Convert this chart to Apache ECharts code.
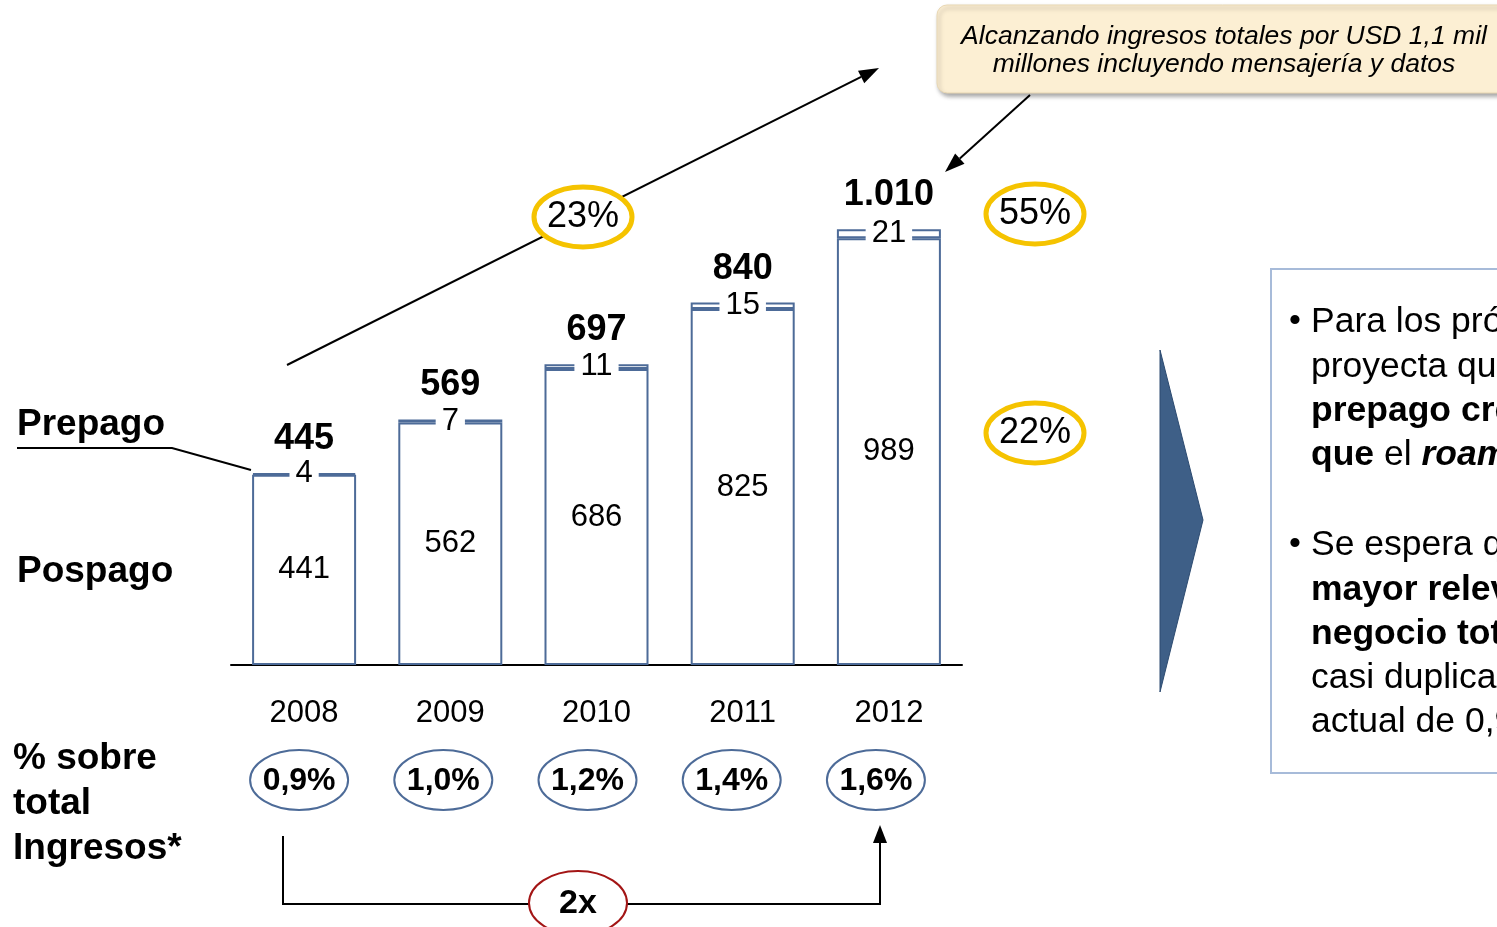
<!DOCTYPE html>
<html>
<head>
<meta charset="utf-8">
<script src="https://cdn.jsdelivr.net/npm/echarts@6/dist/echarts.min.js"></script>
<style>
  html, body { margin: 0; padding: 0; background: #fff; }
  #chart { width: 1497px; height: 927px; }
</style>
</head>
<body>
<div id="chart"></div>
<script>
// datos
const years = ['2008', '2009', '2010', '2011', '2012']
const pospago = [441, 562, 686, 825, 989]
const prepago = [4, 7, 11, 15, 21]
const pctIngresos = ['0,9%', '1,0%', '1,2%', '1,4%', '1,6%']
const cagrTotal = '23%'
const cagrPrepago = '55%'
const cagrPospago = '22%'

const totals = pospago.map((v, i) => v + prepago[i])

const FONT = 'Liberation Sans, Arial, sans-serif'
const BAR_BLUE = '#4d6b98'

// separador de miles con punto
function fmt(n) {
  return String(n).replace(/\B(?=(\d{3})+(?!\d))/g, '.')
}

function arrow(x1, y1, x2, y2, len, w) {
  const a = Math.atan2(y2 - y1, x2 - x1)
  const bx = x2 - len * Math.cos(a)
  const by = y2 - len * Math.sin(a)
  const px = -Math.sin(a) * w / 2
  const py = Math.cos(a) * w / 2
  return [
    { type: 'line', z: 10, shape: { x1: x1, y1: y1, x2: bx, y2: by }, style: { stroke: '#000', lineWidth: 2 } },
    { type: 'polygon', z: 10, shape: { points: [[x2, y2], [bx + px, by + py], [bx - px, by - py]] }, style: { fill: '#000' } },
  ]
}

function yellowOval(cx, cy, txt) {
  return [
    { type: 'ellipse', z: 20, shape: { cx: cx, cy: cy, rx: 49, ry: 30 }, style: { fill: '#fff', stroke: '#f5c300', lineWidth: 5 } },
    { type: 'text', z: 21, x: cx, y: cy, style: { text: txt, font: '36px ' + FONT, fill: '#000', align: 'center', verticalAlign: 'middle' } },
  ]
}

const chart = echarts.init(document.getElementById('chart'))

const option = {
  animation: false,
  backgroundColor: '#fff',
  grid: { left: 231, right: 535, top: 61, bottom: 262 },
  xAxis: {
    type: 'category',
    data: years,
    axisLine: { lineStyle: { color: '#000', width: 2 } },
    axisTick: { show: false },
    axisLabel: { color: '#000', fontSize: 31, fontFamily: FONT, margin: 33 },
  },
  yAxis: {
    type: 'value',
    min: 0,
    max: 1400,
    show: false,
    splitLine: { show: false },
  },
  series: [
    {
      name: 'Pospago',
      type: 'bar',
      stack: 'total',
      barWidth: 104,
      data: pospago,
      itemStyle: { color: '#fff', borderColor: BAR_BLUE, borderWidth: 2 },
      label: { show: true, position: 'inside', color: '#000', fontSize: 31, fontFamily: FONT },
    },
    {
      name: 'Prepago',
      type: 'bar',
      stack: 'total',
      barWidth: 104,
      data: prepago,
      itemStyle: { color: '#fff', borderColor: BAR_BLUE, borderWidth: 2 },
      label: {
        show: true,
        position: 'inside',
        color: '#000',
        fontSize: 31,
        fontFamily: FONT,
        backgroundColor: '#fff',
        padding: [0, 6],
      },
    },
    {
      // total encima de cada barra
      name: 'Total',
      type: 'bar',
      stack: 'total',
      barWidth: 104,
      data: totals.map(() => 0),
      itemStyle: { color: 'rgba(0,0,0,0)', borderWidth: 0 },
      label: {
        show: true,
        position: 'top',
        distance: 16,
        color: '#000',
        fontSize: 36,
        fontWeight: 'bold',
        fontFamily: FONT,
        formatter: (p) => fmt(totals[p.dataIndex]),
      },
    },
  ],
}

chart.setOption(option)

// anotaciones
let g = []

// etiquetas de la izquierda
const leftFont = 'bold 37px ' + FONT
g.push({ type: 'text', x: 17, y: 425, style: { text: 'Prepago', font: leftFont, fill: '#000', verticalAlign: 'middle' } })
g.push({ type: 'polyline', shape: { points: [[17, 448], [172, 448], [251, 470]] }, style: { stroke: '#000', lineWidth: 2, fill: null } })
g.push({ type: 'text', x: 17, y: 572, style: { text: 'Pospago', font: leftFont, fill: '#000', verticalAlign: 'middle' } })
g.push({ type: 'text', x: 13, y: 759, style: { text: '% sobre', font: leftFont, fill: '#000', verticalAlign: 'middle' } })
g.push({ type: 'text', x: 13, y: 804, style: { text: 'total', font: leftFont, fill: '#000', verticalAlign: 'middle' } })
g.push({ type: 'text', x: 13, y: 849, style: { text: 'Ingresos*', font: leftFont, fill: '#000', verticalAlign: 'middle' } })

// % sobre ingresos (ovalos un poco mas juntos que las barras)
years.forEach((y, i) => {
  const cx = chart.convertToPixel({ xAxisIndex: 0 }, y) - 5 - i * 2
  g.push({ type: 'ellipse', shape: { cx: cx, cy: 780, rx: 49, ry: 30 }, style: { fill: '#fff', stroke: BAR_BLUE, lineWidth: 2 } })
  g.push({ type: 'text', x: cx, y: 781, style: { text: pctIngresos[i], font: 'bold 32px ' + FONT, fill: '#000', align: 'center', verticalAlign: 'middle' } })
})

// flecha crecimiento total
g = g.concat(arrow(287, 365, 879, 68, 20, 14))
g = g.concat(yellowOval(583, 217, cagrTotal))
g = g.concat(yellowOval(1035, 214, cagrPrepago))
g = g.concat(yellowOval(1035, 433, cagrPospago))

// cuadro de texto superior
g.push({
  type: 'rect', z: 5,
  shape: { x: 937, y: 5, width: 600, height: 88, r: 10 },
  style: { fill: '#fcefd3', stroke: '#e9d8b4', lineWidth: 1, shadowBlur: 4, shadowOffsetX: 2, shadowOffsetY: 3, shadowColor: 'rgba(0,0,0,0.35)' },
})
g.push({ type: 'text', z: 6, x: 1224, y: 37, style: { text: 'Alcanzando ingresos totales por USD 1,1 mil', font: 'italic 26.5px ' + FONT, fill: '#000', align: 'center', verticalAlign: 'middle' } })
g.push({ type: 'text', z: 6, x: 1224, y: 65, style: { text: 'millones incluyendo mensajería y datos', font: 'italic 26.5px ' + FONT, fill: '#000', align: 'center', verticalAlign: 'middle' } })
g = g.concat(arrow(1030, 95, 945, 172, 20, 14))

// corchete 2x
g.push({ type: 'polyline', z: 10, shape: { points: [[283, 836], [283, 904], [880, 904], [880, 842]] }, style: { stroke: '#000', lineWidth: 2, fill: null } })
g.push({ type: 'polygon', z: 10, shape: { points: [[880, 825], [873, 843], [887, 843]] }, style: { fill: '#000' } })
g.push({ type: 'ellipse', z: 20, shape: { cx: 578, cy: 903, rx: 49, ry: 32 }, style: { fill: '#fff', stroke: '#a31515', lineWidth: 2 } })
g.push({ type: 'text', z: 21, x: 578, y: 904, style: { text: '2x', font: 'bold 34px ' + FONT, fill: '#000', align: 'center', verticalAlign: 'middle' } })

// triangulo
g.push({
  type: 'polygon',
  shape: { points: [[1160, 350], [1203, 520], [1160, 692]] },
  style: { fill: '#3e5f87', stroke: '#2c4a70', lineWidth: 1 },
})

// cuadro de la derecha
g.push({ type: 'rect', shape: { x: 1271, y: 269, width: 300, height: 504 }, style: { fill: '#fff', stroke: '#a7bbd9', lineWidth: 2 } })
const rich = {
  n: { fontSize: 35.5, fontFamily: FONT, fill: '#000' },
  b: { fontSize: 35.5, fontFamily: FONT, fontWeight: 'bold', fill: '#000' },
  bi: { fontSize: 35.5, fontFamily: FONT, fontWeight: 'bold', fontStyle: 'italic', fill: '#000' },
}
const lines = [
  [322, '{n|Para los próximos años se}', true],
  [367, '{n|proyecta que el roaming}', false],
  [411, '{b|prepago crecerá más rápido}', false],
  [455, '{b|que}{n| el }{bi|roaming}{n| pospago}', false],
  [545, '{n|Se espera que el roaming gane}', true],
  [590, '{b|mayor relevancia en el}', false],
  [634, '{b|negocio total}{n|, llegando a}', false],
  [678, '{n|casi duplicar su participación}', false],
  [722, '{n|actual de 0,9%}', false],
]
lines.forEach((l) => {
  if (l[2]) {
    g.push({ type: 'text', x: 1289, y: l[0], style: { text: '•', font: '34px ' + FONT, fill: '#000', verticalAlign: 'middle' } })
  }
  g.push({ type: 'text', x: 1311, y: l[0], style: { text: l[1], rich: rich, fill: '#000', verticalAlign: 'middle' } })
})

chart.setOption({ graphic: g })
</script>
</body>
</html>
